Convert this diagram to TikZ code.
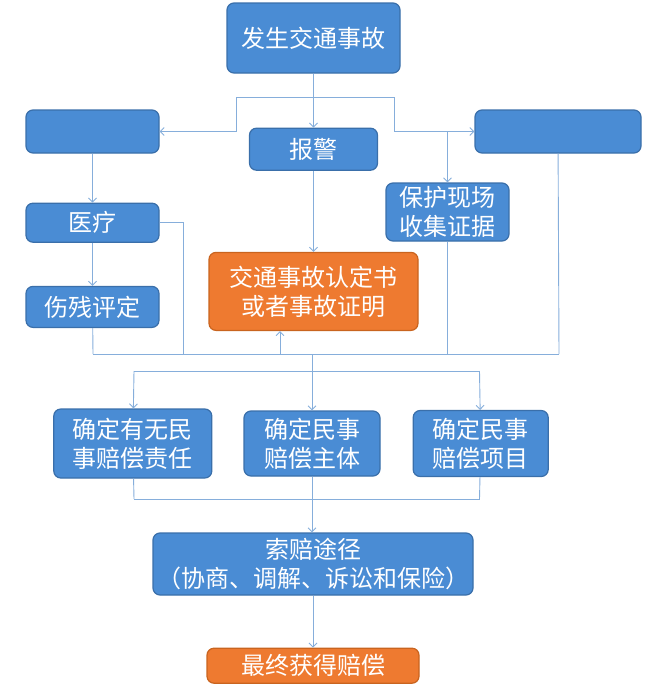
\documentclass[tikz,border=0pt]{standalone}
\usepackage{fontspec}
\newfontfamily\cjk{Noto Sans CJK SC}
\usepackage{xcolor}
\usetikzlibrary{arrows.meta, positioning}

\definecolor{boxblue}{HTML}{4A8CD4}
\definecolor{edgeblue}{HTML}{3A6FAA}
\definecolor{lineblue}{HTML}{86AEDB}
\definecolor{boxorange}{HTML}{EE7A30}
\definecolor{edgeorange}{HTML}{C9641F}

\begin{document}
\begin{tikzpicture}[
    x = 1pt, y = -1pt, % one unit per pixel, y downwards
    > = {Straight Barb[length=4pt, width=8pt]}, % arrow head style
    node distance = 5mm,
    link/.style={draw=lineblue, line width=0.9pt},
    box/.style={rectangle, rounded corners=7pt, draw=edgeblue, line width=1.2pt,
      fill=boxblue, text=white, align=center, inner sep=0pt,
      font=\cjk\fontsize{24}{29}\selectfont}
  ]

  \tikzstyle{hot box}=[
    box,
    draw = edgeorange,
    fill = boxorange
  ]

  \useasboundingbox (0,0) rectangle (668,699);

  \node[box, minimum width=173pt, minimum height=70pt] (acc) at (313.5,38) {发生交通事故};
  \node[box, minimum width=128pt, minimum height=42pt] (police) [below = 54pt of acc] {报警};
  \node[box, minimum width=133pt, minimum height=43pt] (left) at (92.5,131.5) {};
  \node[box, minimum width=166pt, minimum height=43pt] (right) at (558,131.5) {};
  \node[box, minimum width=123pt, minimum height=58pt] (scene) at (447.5,212) {保护现场\\收集证据};
  \node[box, minimum width=133pt, minimum height=39pt] (med) [below = 49pt of left] {医疗};
  \node[box, minimum width=133pt, minimum height=41pt] (disab) [below = 43pt of med] {伤残评定};
  \node[hot box, minimum width=209pt, minimum height=78pt] (cert) [below = 81pt of police] {交通事故认定书\\或者事故证明};

  \node[box, minimum width=136pt, minimum height=65pt] (subj) at (312,443.5) {确定民事\\赔偿主体};
  \node[box, minimum width=158pt, minimum height=69pt] (resp) [left = 31pt of subj] {确定有无民\\事赔偿责任};
  \node[box, minimum width=135pt, minimum height=66pt] (item) [right = 32pt of subj] {确定民事\\赔偿项目};
  \node[box, minimum width=320pt, minimum height=62pt] (claim) at (313,564) {索赔途径\\（协商、调解、诉讼和保险）};
  \node[hot box, minimum width=212pt, minimum height=35pt] (final) [below = 52pt of claim] {最终获得赔偿};

  % split below the accident
  \coordinate (sl) at (236,97);
  \coordinate (sr) at (394,97);
  \draw[link] (sl) -- (sr);
  \draw[link, ->] (sl) |- (left);
  \draw[link, ->] (sr) |- (right);
  \draw[link, ->] (scene.north |- right) -- (scene.north);
  \draw[link, ->] (acc) -- (police);
  \draw[link, ->] (police) -- (cert);
  \draw[link, ->] (left) -- (med);
  \draw[link, ->] (med) -- (disab);

  % first collecting line
  \coordinate (b1) at (93,354);
  \coordinate (b1r) at (559,354);
  \coordinate (up) at (280,354);
  \coordinate (mt) at (183,354);
  \draw[link] (b1) -- (b1r);
  \draw[link] (disab) -- (b1);
  \draw[link] (med.east) -| (mt);
  \draw[link] (scene) -- (scene |- b1);
  \draw[link] (right) -- (b1r);
  \draw[link, ->] (up) -- (up |- cert.south);

  % second line, to the three boxes
  \coordinate (b2l) at (134,371);
  \coordinate (b2r) at (479.5,371);
  \draw[link] (b2l) -- (b2r);
  \draw[link, ->] (subj |- b1) -- (subj);
  \draw[link, ->] (b2l) -- (resp);
  \draw[link, ->] (b2r) -- (item);

  % joining below the three boxes
  \coordinate (b3l) at (134,499);
  \coordinate (b3r) at (479.5,499);
  \draw[link] (b3l) -- (b3r);
  \draw[link] (resp) -- (b3l);
  \draw[link] (item) -- (b3r);
  \draw[link, ->] (subj) -- (subj |- claim.north);
  \draw[link, ->] (claim) -- (final);
\end{tikzpicture}
\end{document}
